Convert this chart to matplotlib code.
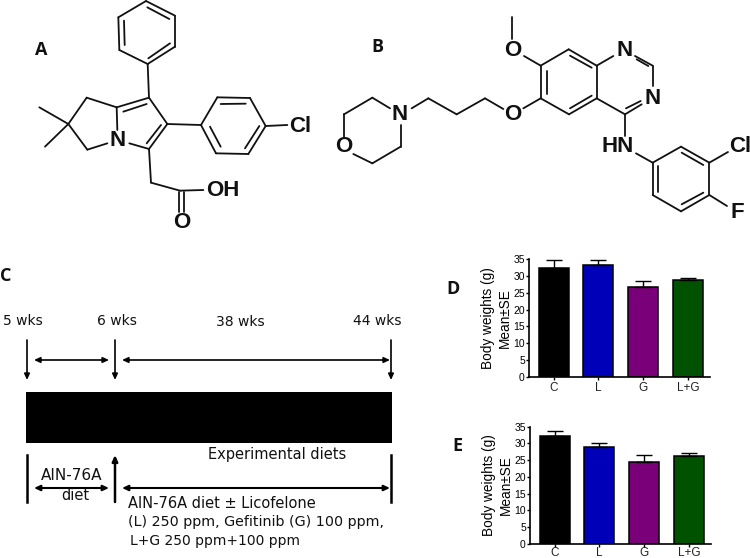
import numpy as np
import matplotlib
matplotlib.use('Agg')
import matplotlib.pyplot as plt

plt.rcParams['font.family'] = ['Liberation Sans', 'DejaVu Sans']

groups = ['C', 'L', 'G', 'L+G']
colors = ['#000000', '#0000b8', '#7a007a', '#005200']
d_means = [32.5, 33.3, 26.8, 28.9]
d_err = [2.2, 1.4, 1.6, 0.6]
e_means = [32.3, 28.8, 24.5, 26.3]
e_err = [1.4, 1.4, 2.1, 0.9]
yticks = [0, 5, 10, 15, 20, 25, 30, 35]

# structure A, in px*3
a_bonds = [
    (438,3,525,47), (525,47,525,140), (525,140,443,192), (443,192,358,150), (358,150,355,52), (355,52,438,3),
    (372,62,374,135), (442,22,508,57), (445,175,510,130),
    (443,192,447,293), (447,293,502,372), (502,372,447,447), (447,447,388,430), (350,322,352,390), (350,322,447,293),
    (370,335,440,312), (483,375,440,430),
    (350,322,260,293), (260,293,205,372), (205,372,262,449), (262,449,322,430), (205,372,118,322), (205,372,135,440),
    (502,372,603,375), (603,375,652,292), (652,292,750,294), (750,294,797,378), (797,378,745,462), (745,462,648,460), (648,460,603,375),
    (662,312,737,311), (630,380,662,440), (735,445,778,378), (797,378,862,375),
    (447,447,453,548), (453,548,540,572), (540,572,610,570), (537,575,537,635), (553,575,553,635),
]
a_labels = [('N',353,420), ('Cl',902,380), ('OH',667,573), ('O',545,668)]

# structure B, in px*3 with x starting at 320
b_bonds = [
    (577,50,577,118), (612,168,662,197), (662,197,746,148), (746,148,830,197), (830,197,830,295), (830,295,747,343),
    (747,343,662,295), (662,295,662,197), (680,212,680,282), (750,167,815,203), (750,325,815,287),
    (830,197,880,168), (945,168,998,197), (950,178,985,198), (998,197,998,258), (965,313,915,343), (918,325,962,303),
    (915,343,830,295), (915,343,915,408), (948,460,998,488),
    (998,488,1083,440), (1083,440,1168,488), (1168,488,1168,585), (1168,585,1083,634), (1083,634,998,585), (998,585,998,488),
    (1015,497,1015,575), (1085,458,1150,495), (1085,613,1150,578),
    (210,325,157,293), (157,293,72,343), (72,343,72,410), (100,462,157,490), (157,490,242,440), (242,440,242,375),
    (275,325,325,295), (325,295,410,343), (410,343,495,295), (495,295,550,327), (610,325,662,295),
    (1168,488,1224,456), (1168,585,1221,618),
]
b_labels = [('O',578,150), ('N',915,150), ('N',998,295), ('HN',893,440), ('N',240,345), ('O',72,440), ('O',577,343),
            ('Cl',1260,441), ('F',1251,636)]

fig = plt.figure(figsize=(7.5, 5.58), dpi=100)
bg = fig.add_axes([0, 0, 1, 1])
bg.set_xlim(0, 750)
bg.set_ylim(558, 0)
bg.axis('off')


def draw_mol(bonds, labels, x0):
    for x1, y1, x2, y2 in bonds:
        bg.plot([x0 + x1 / 3, x0 + x2 / 3], [y1 / 3, y2 / 3], color='#111111', lw=1.3, solid_capstyle='round')
    for s, x, y in labels:
        bg.text(x0 + x / 3, y / 3, s, fontsize=16, fontweight='bold', ha='center', va='center', color='#111111')


draw_mol(a_bonds, a_labels, 0)
draw_mol(b_bonds, b_labels, 320)

for s, x, y in [('A', 41, 50), ('B', 377, 47), ('C', 6, 276), ('D', 453, 289), ('E', 457, 446)]:
    bg.text(x, y, s, fontsize=13, fontweight='bold', ha='center', va='center', color='#111111',
            family=['Open Sans', 'DejaVu Sans'])

# panel C, timeline
bg.fill_between([26, 392], 392, 443, color='black', lw=0)


def arrow(x1, y1, x2, y2, style='-|>', lw=1.2):
    bg.annotate('', xy=(x2, y2), xytext=(x1, y1),
                arrowprops=dict(arrowstyle=style + ',head_length=0.35,head_width=0.16', color='black',
                                lw=lw, shrinkA=0, shrinkB=0))


for x in [27, 115, 391]:
    arrow(x, 340, x, 380)
arrow(34, 360, 109, 360, '<|-|>')
arrow(122, 360, 390, 360, '<|-|>')
for x in [27, 391]:
    bg.plot([x, x], [455, 502], color='black', lw=1.8)
arrow(115, 502, 115, 455, lw=1.8)
arrow(34, 488, 109, 488, '<|-|>', 1.5)
arrow(122, 488, 390, 488, '<|-|>', 1.5)

c_texts = [('5 wks', 23, 321, 10), ('6 wks', 117, 321, 10), ('38 wks', 240, 322, 10), ('44 wks', 377, 321, 10),
           ('Experimental diets', 277, 454, 10.5), ('AIN-76A', 72, 476, 11), ('diet', 75, 495, 10.5)]
for s, x, y, fs in c_texts:
    bg.text(x, y, s, fontsize=fs, ha='center', va='center', color='#111111', family=['DejaVu Sans'])
bg.text(128, 503, 'AIN-76A diet \u00b1 Licofelone', fontsize=10.5, ha='left', va='center', color='#111111', family=['DejaVu Sans'])
bg.text(128, 522, '(L) 250 ppm, Gefitinib (G) 100 ppm,', fontsize=10.3, ha='left', va='center', color='#111111', family=['DejaVu Sans'])
bg.text(130, 541, 'L+G 250 ppm+100 ppm', fontsize=10, ha='left', va='center', color='#111111', family=['DejaVu Sans'])


def draw_bars(box, means, errs, xpad):
    ax = fig.add_axes([box[0] / 750, 1 - box[3] / 558, (box[2] - box[0]) / 750, (box[3] - box[1]) / 558])
    xs = np.arange(len(groups))
    ax.bar(xs, means, width=0.67, color=colors, edgecolor='black', linewidth=1.1)
    for x, m, e in zip(xs, means, errs):
        ax.errorbar(x, m, yerr=[[0], [e]], color='black', capsize=5.5, lw=1, capthick=1)
    ax.set_xlim(-0.55, 3.49)
    ax.set_ylim(0, 35)
    ax.set_xticks(xs)
    ax.set_xticklabels(groups, fontsize=8.5, color='#222222')
    ax.set_yticks(yticks)
    ax.tick_params(axis='y', labelsize=7.5, pad=1, length=2, width=1)
    ax.tick_params(axis='x', pad=xpad, length=2, width=1)
    for s in ['top', 'right']:
        ax.spines[s].set_visible(False)
    for s in ['left', 'bottom']:
        ax.spines[s].set_linewidth(1.2)
    ax.patch.set_alpha(0)
    ax.set_ylabel('Body weights (g)\nMean\u00b1SE', fontsize=9.8, labelpad=1, linespacing=1.3)
    return ax


draw_bars((529, 259.3, 710, 376.7), d_means, d_err, 1.5)
draw_bars((530, 426.7, 711, 544), e_means, e_err, 0)

fig.savefig('out.png', dpi=100)
